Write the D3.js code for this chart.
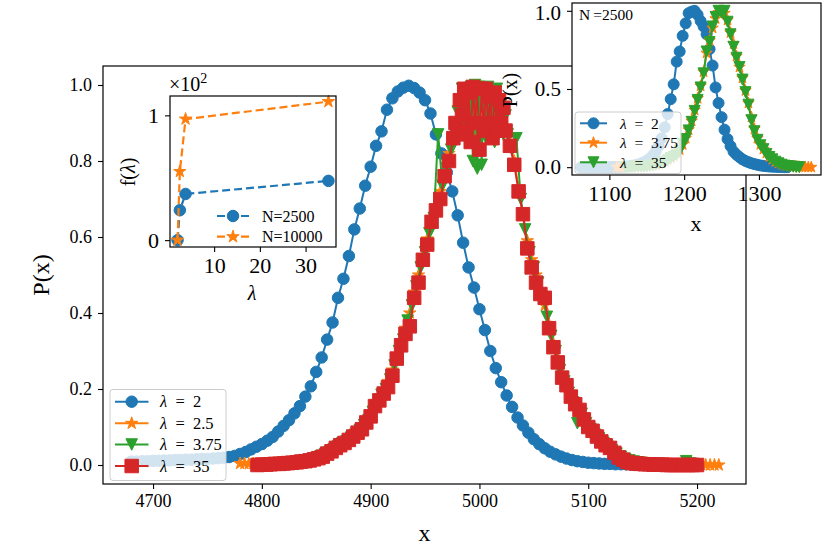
<!DOCTYPE html>
<html><head><meta charset="utf-8">
<script src="https://cdnjs.cloudflare.com/ajax/libs/d3/7.8.5/d3.min.js"></script>
<style>
html,body{margin:0;padding:0;background:#fff;}
svg{display:block;font-family:"Liberation Serif","DejaVu Serif",serif;}
</style></head>
<body><svg id="c" width="830" height="554"></svg>
<script>
// ---------------- DATA ----------------
// Main panel (N = 10000): [x, P(x)]
const mainLam2 = [[4680,.009],[4685,.009],[4690,.010],[4695,.010],[4700,.011],[4705,.011],[4710,.012],[4715,.012],[4720,.013],[4725,.013],[4730,.014],[4735,.014],[4740,.015],[4745,.016],[4750,.016],[4755,.017],[4760,.018],[4765,.019],[4770,.021],[4775,.024],[4780,.029],[4785,.034],[4790,.041],[4795,.048],[4800,.055],[4805,.064],[4810,.074],[4815,.088],[4820,.103],[4825,.118],[4830,.136],[4835,.155],[4840,.180],[4845,.207],[4850,.245],[4855,.283],[4860,.330],[4865,.375],[4870,.440],[4875,.490],[4880,.550],[4885,.620],[4890,.675],[4895,.735],[4900,.785],[4905,.840],[4910,.878],[4915,.935],[4920,.965],[4925,.983],[4930,.993],[4935,.998],[4940,.992],[4945,.980],[4950,.960],[4955,.925],[4960,.870],[4965,.820],[4970,.770],[4975,.720],[4980,.657],[4985,.585],[4990,.520],[4995,.467],[5000,.410],[5005,.355],[5010,.300],[5015,.255],[5020,.218],[5025,.183],[5030,.153],[5035,.125],[5040,.104],[5045,.085],[5050,.068],[5055,.055],[5060,.044],[5065,.035],[5070,.028],[5075,.022],[5080,.017],[5085,.013],[5090,.010],[5095,.008],[5100,.006],[5105,.005],[5110,.004],[5115,.003],[5120,.003],[5125,.002],[5130,.002],[5135,.002],[5140,.001],[5145,.001],[5150,.001],[5155,.001],[5160,.001],[5165,.001],[5170,0],[5175,0],[5180,0],[5185,0],[5190,0]];
const mainLam25 = [[4780,.004],[4784,.004],[4788,.003],[4792,.004],[4796,.003],[4800,.003],[4804,.004],[4808,.004],[4812,.005],[4816,.005],[4820,.006],[4824,.007],[4828,.008],[4832,.010],[4836,.011],[4840,.013],[4844,.015],[4848,.018],[4852,.021],[4856,.026],[4860,.031],[4864,.038],[4868,.046],[4872,.055],[4876,.062],[4880,.070],[4884,.080],[4888,.090],[4892,.100],[4896,.118],[4900,.135],[4904,.158],[4908,.180],[4912,.195],[4916,.220],[4920,.250],[4924,.290],[4928,.325],[4932,.360],[4936,.400],[4940,.455],[4944,.500],[4948,.550],[4952,.595],[4956,.640],[4960,.680],[4964,.720],[4968,.770],[4972,.820],[4976,.860],[4978,.900],[4980,.880],[4982,.950],[4984,.910],[4986,.985],[4988,.900],[4990,.990],[4992,.870],[4994,.995],[4996,.850],[4998,.990],[5000,.880],[5002,.995],[5004,.900],[5006,.990],[5008,.870],[5010,.985],[5012,.880],[5014,.970],[5016,.900],[5018,.960],[5020,.900],[5022,.930],[5024,.880],[5028,.850],[5032,.800],[5036,.730],[5040,.660],[5044,.590],[5048,.540],[5052,.500],[5056,.460],[5060,.420],[5064,.370],[5068,.320],[5072,.280],[5076,.240],[5080,.215],[5084,.185],[5088,.160],[5092,.140],[5096,.120],[5100,.105],[5104,.090],[5108,.076],[5112,.064],[5116,.053],[5120,.044],[5124,.034],[5128,.026],[5132,.019],[5136,.014],[5140,.010],[5144,.008],[5148,.006],[5152,.005],[5156,.004],[5160,.003],[5164,.003],[5168,.002],[5172,.002],[5176,.002],[5180,.001],[5184,.001],[5188,.001],[5192,.002],[5196,.001],[5200,.001],[5204,.001],[5208,0],[5212,0],[5216,0],[5220,0]];
const mainLam375 = [[4798,0],[4802,.001],[4806,.001],[4810,.002],[4814,.003],[4818,.004],[4822,.005],[4826,.006],[4830,.007],[4834,.009],[4838,.011],[4842,.013],[4846,.015],[4850,.019],[4854,.023],[4858,.028],[4862,.033],[4866,.041],[4870,.049],[4874,.057],[4878,.063],[4882,.072],[4886,.080],[4890,.092],[4894,.105],[4898,.118],[4902,.140],[4906,.152],[4910,.185],[4914,.200],[4918,.225],[4922,.262],[4926,.300],[4930,.330],[4934,.380],[4938,.420],[4942,.470],[4946,.520],[4950,.560],[4954,.610],[4958,.650],[4962,.870],[4966,.735],[4970,.780],[4974,.830],[4978,.870],[4980,.930],[4982,.880],[4984,.990],[4986,.900],[4988,.990],[4990,.850],[4992,.995],[4994,.800],[4996,1.0],[4998,.780],[5000,.995],[5002,.790],[5004,.990],[5006,.860],[5008,.995],[5010,.880],[5012,.980],[5014,.850],[5016,.990],[5018,.900],[5020,.950],[5022,.870],[5024,.920],[5026,.870],[5030,.830],[5034,.860],[5038,.700],[5042,.620],[5046,.560],[5050,.520],[5054,.480],[5058,.440],[5062,.390],[5066,.340],[5070,.300],[5074,.250],[5078,.220],[5082,.190],[5086,.165],[5090,.110],[5094,.135],[5098,.110],[5102,.095],[5106,.080],[5110,.070],[5114,.058],[5118,.048],[5122,.038],[5126,.030],[5130,.022],[5134,.016],[5138,.012],[5142,.009],[5146,.007],[5150,.005],[5154,.004],[5158,.003],[5162,.002],[5166,.002],[5170,.001],[5174,.001],[5178,.001],[5182,0],[5186,0],[5190,.010],[5194,.004],[5198,0]];
const mainLam35 = [[4796,0],[4800,.001],[4804,.001],[4808,.002],[4812,.003],[4816,.003],[4820,.004],[4824,.005],[4828,.006],[4832,.007],[4836,.009],[4840,.010],[4844,.012],[4848,.015],[4852,.018],[4856,.022],[4860,.030],[4864,.036],[4868,.045],[4872,.052],[4876,.058],[4880,.066],[4884,.075],[4888,.085],[4892,.094],[4896,.112],[4900,.128],[4904,.155],[4908,.170],[4912,.188],[4916,.205],[4920,.235],[4924,.280],[4928,.315],[4932,.345],[4936,.365],[4940,.440],[4944,.480],[4948,.540],[4952,.580],[4956,.640],[4960,.670],[4964,.700],[4968,.760],[4972,.800],[4976,.860],[4978,.900],[4980,.870],[4982,.960],[4984,.920],[4986,.990],[4988,.880],[4990,.980],[4992,.850],[4994,.995],[4996,.900],[4998,.990],[5000,.830],[5002,.990],[5004,.880],[5006,.990],[5008,.900],[5010,.970],[5012,.860],[5014,.980],[5016,.880],[5018,.960],[5020,.900],[5022,.940],[5024,.880],[5028,.840],[5032,.790],[5036,.720],[5040,.660],[5044,.570],[5048,.520],[5052,.480],[5056,.450],[5060,.440],[5064,.360],[5068,.310],[5072,.270],[5076,.230],[5080,.210],[5084,.180],[5088,.160],[5092,.145],[5096,.120],[5100,.100],[5104,.090],[5108,.075],[5112,.062],[5116,.052],[5120,.045],[5124,.032],[5128,.020],[5132,.014],[5136,.008],[5140,.005],[5144,.004],[5148,.003],[5152,.002],[5156,.002],[5160,.001],[5164,.001],[5168,.001],[5172,0],[5176,0],[5180,0],[5184,0],[5188,0],[5192,0],[5196,0],[5200,0]];
const mainLabels = ["2","2.5","3.75","35"];
const mainXTicks = [4700,4800,4900,5000,5100,5200];
const mainYTicks = [0,0.2,0.4,0.6,0.8,1.0];

// Inset 1: f(lambda) in units of 10^2
const insetLambda = [2,2.5,3.75,35];
const fN2500 = [0,0.24,0.37,0.475];
const fN10000 = [0,0.55,0.97,1.11];
const inset1XTicks = [10,20,30];
const inset1YTicks = [0,1];

// Inset 2 (N = 2500)
const smallLam2 = [[1062,0],[1066,0],[1070,0],[1074,0],[1078,0],[1082,0],[1086,0],[1090,0],[1094,0],[1098,.001],[1102,.001],[1106,.001],[1110,.002],[1114,.002],[1118,.003],[1122,.004],[1126,.006],[1130,.009],[1134,.012],[1138,.017],[1142,.023],[1146,.031],[1150,.042],[1154,.055],[1158,.075],[1162,.100],[1166,.135],[1170,.185],[1174,.255],[1178,.340],[1182,.435],[1186,.530],[1190,.675],[1194,.740],[1198,.840],[1202,.920],[1206,.985],[1210,.995],[1214,1.0],[1218,.975],[1222,.935],[1226,.900],[1230,.850],[1234,.755],[1238,.650],[1242,.510],[1246,.410],[1250,.320],[1254,.240],[1258,.180],[1262,.135],[1266,.100],[1270,.080],[1274,.064],[1278,.050],[1282,.040],[1286,.032],[1290,.025],[1294,.020],[1298,.015],[1302,.011],[1306,.008],[1310,.006],[1314,.004],[1318,.003],[1322,.002],[1326,.001],[1330,.001],[1334,0],[1338,0]];
const smallLam375 = [[1110,0],[1114,0],[1118,.001],[1122,.001],[1126,.001],[1130,.002],[1134,.002],[1138,.003],[1142,.004],[1146,.005],[1150,.007],[1154,.009],[1158,.012],[1162,.016],[1166,.021],[1170,.028],[1174,.036],[1178,.047],[1182,.060],[1186,.072],[1190,.088],[1194,.112],[1198,.145],[1202,.185],[1206,.240],[1210,.295],[1214,.365],[1218,.440],[1222,.520],[1226,.610],[1230,.730],[1234,.810],[1238,.890],[1242,.950],[1246,.990],[1250,1.0],[1254,.985],[1258,.940],[1262,.860],[1266,.790],[1270,.710],[1274,.640],[1278,.570],[1282,.490],[1286,.410],[1290,.320],[1294,.245],[1298,.185],[1302,.145],[1306,.115],[1310,.090],[1314,.068],[1318,.050],[1322,.036],[1326,.026],[1330,.018],[1334,.012],[1338,.008],[1342,.006],[1346,.004],[1350,.003],[1354,.002],[1358,.001],[1362,.001],[1366,0],[1370,0]];
const smallLam35 = [[1122,0],[1126,.001],[1130,.001],[1134,.002],[1138,.003],[1142,.004],[1146,.005],[1150,.006],[1154,.008],[1158,.011],[1162,.015],[1166,.020],[1170,.027],[1174,.035],[1178,.045],[1182,.058],[1186,.068],[1190,.080],[1194,.105],[1198,.150],[1202,.180],[1206,.235],[1210,.290],[1214,.360],[1218,.430],[1222,.510],[1226,.600],[1230,.740],[1234,.800],[1238,.900],[1242,.960],[1246,1.0],[1250,.990],[1254,1.0],[1258,.930],[1262,.850],[1266,.770],[1270,.700],[1274,.640],[1278,.560],[1282,.480],[1286,.400],[1290,.300],[1294,.230],[1298,.175],[1302,.140],[1306,.115],[1310,.085],[1314,.065],[1318,.050],[1322,.035],[1326,.025],[1330,.016],[1334,.010],[1338,.007],[1342,.005],[1346,.003],[1350,.001],[1354,0]];
const smallLabels = ["2","3.75","35"];
const inset2XTicks = [1100,1200,1300];
const inset2YTicks = [0,0.5,1.0];

// ---------------- DRAWING ----------------
const C = {blue:"#1f77b4", orange:"#ff7f0e", green:"#2ca02c", red:"#d62728"};
const svg = d3.select("#c");
const FONT = '"Liberation Serif","DejaVu Serif",serif';

function markerPath(type, s) {
  if (type === "circle") return d3.symbol(d3.symbolCircle, Math.PI * (s/2) * (s/2))();
  if (type === "square") return d3.symbol(d3.symbolSquare, s*s)();
  if (type === "star") return d3.symbol(d3.symbolStar, (s/2)*(s/2)/0.8908130915292852)();
  if (type === "tri") return `M0,${s/2}L${-s/2},${-s/2}L${s/2},${-s/2}Z`;
}
function drawSeries(g, xs, ys, data, color, type, size, lw, dash) {
  const line = d3.line().x(d => xs(d[0])).y(d => ys(d[1]));
  g.append("path").datum(data).attr("d", line).attr("fill", "none")
    .attr("stroke", color).attr("stroke-width", lw).attr("stroke-linejoin","round")
    .attr("stroke-dasharray", dash || null);
  g.append("g").selectAll("path").data(data).join("path")
    .attr("d", markerPath(type, size))
    .attr("transform", d => `translate(${xs(d[0])},${ys(d[1])})`)
    .attr("fill", color).attr("stroke", color).attr("stroke-width", 1);
}
function styleAxis(ax, fs) {
  ax.select(".domain").remove();
  ax.selectAll(".tick line").attr("stroke", "#000").attr("stroke-width", 1.1);
  ax.selectAll(".tick text").attr("font-family", FONT).attr("font-size", fs).attr("fill", "#000");
}
function frame(g, x0, y0, x1, y1) {
  g.append("rect").attr("x", x0).attr("y", y0).attr("width", x1-x0).attr("height", y1-y0)
    .attr("fill", "none").attr("stroke", "#000").attr("stroke-width", 1.2);
}
function lamLabel(t, val) {
  t.append("tspan").attr("font-style","italic").text("λ");
  t.append("tspan").text("\u2002=\u2002" + val);
}

// ---- Main panel ----
const mL=103, mR=746, mT=66, mB=484;
const mx = d3.scaleLinear().domain([4654, 5245]).range([mL, mR]);
const my = d3.scaleLinear().domain([-0.05, 1.05]).range([mB, mT]);
const gMain = svg.append("g");
gMain.append("rect").attr("x",mL).attr("y",mT).attr("width",mR-mL).attr("height",mB-mT).attr("fill","#fff");
const series = [
  {d: mainLam2, c: C.blue, t: "circle", s: 11.5},
  {d: mainLam25, c: C.orange, t: "star", s: 13},
  {d: mainLam375, c: C.green, t: "tri", s: 11.5},
  {d: mainLam35, c: C.red, t: "square", s: 13.5}
];
series.forEach(s => drawSeries(gMain, mx, my, s.d, s.c, s.t, s.s, 2));
frame(gMain, mL, mT, mR, mB);
const axMX = gMain.append("g").attr("transform", `translate(0,${mB})`)
  .call(d3.axisBottom(mx).tickValues(mainXTicks).tickFormat(d3.format("d")).tickSize(5).tickPadding(5));
styleAxis(axMX, 18);
const axMY = gMain.append("g").attr("transform", `translate(${mL},0)`)
  .call(d3.axisLeft(my).tickValues(mainYTicks).tickFormat(d3.format(".1f")).tickSize(5).tickPadding(6));
styleAxis(axMY, 18);
gMain.append("text").attr("x", (mL+mR)/2).attr("y", 541).attr("text-anchor","middle")
  .attr("font-size", 24).text("x");
gMain.append("text").attr("transform", `translate(49,${(mT+mB)/2}) rotate(-90)`).attr("text-anchor","middle")
  .attr("font-size", 24).text("P(x)");

// main legend
const lg = gMain.append("g");
lg.append("rect").attr("x",110).attr("y",389.5).attr("width",116).attr("height",91).attr("rx",3)
  .attr("fill","#fff").attr("fill-opacity",0.8).attr("stroke","#cccccc").attr("stroke-width",1);
const legRows = [401.7, 423.3, 444.5, 466];
series.forEach((s, i) => {
  const y = legRows[i];
  lg.append("line").attr("x1",115).attr("x2",148.5).attr("y1",y).attr("y2",y).attr("stroke",s.c).attr("stroke-width",2);
  lg.append("path").attr("d", markerPath(s.t, s.s)).attr("transform",`translate(131.7,${y})`)
    .attr("fill",s.c).attr("stroke",s.c).attr("stroke-width",1);
  const t = lg.append("text").attr("x",160).attr("y",y+5.5).attr("font-size",16.5);
  lamLabel(t, mainLabels[i]);
});

// ---- Inset 1 ----
const aL=170, aR=336, aT=96, aB=247;
const ax = d3.scaleLinear().domain([0.35, 36.65]).range([aL, aR]);
const ay = d3.scaleLinear().domain([-0.055, 1.155]).range([aB, aT]);
const g1 = svg.append("g");
g1.append("rect").attr("x",aL).attr("y",aT).attr("width",aR-aL).attr("height",aB-aT).attr("fill","#fff");
const d2500 = insetLambda.map((l,i)=>[l, fN2500[i]]);
const d10000 = insetLambda.map((l,i)=>[l, fN10000[i]]);
drawSeries(g1, ax, ay, d2500, C.blue, "circle", 11.5, 2.2, "8,4");
drawSeries(g1, ax, ay, d10000, C.orange, "star", 13, 2.2, "8,4");
frame(g1, aL, aT, aR, aB);
const ax1 = g1.append("g").attr("transform",`translate(0,${aB})`)
  .call(d3.axisBottom(ax).tickValues(inset1XTicks).tickFormat(d3.format("d")).tickSize(5).tickPadding(5));
styleAxis(ax1, 22);
const ay1 = g1.append("g").attr("transform",`translate(${aL},0)`)
  .call(d3.axisLeft(ay).tickValues(inset1YTicks).tickFormat(d3.format("d")).tickSize(5).tickPadding(6));
styleAxis(ay1, 22);
g1.append("text").attr("x",252).attr("y",300).attr("text-anchor","middle").attr("font-size",20)
  .attr("font-style","italic").text("λ");
const fl = g1.append("text").attr("transform","translate(135,172) rotate(-90)").attr("text-anchor","middle").attr("font-size",20);
fl.append("tspan").text("f(");
fl.append("tspan").attr("font-style","italic").text("λ");
fl.append("tspan").text(")");
const off = g1.append("text").attr("x",169).attr("y",91).attr("font-size",20);
off.append("tspan").text("×10");
off.append("tspan").attr("dy",-8).attr("font-size",14).text("2");
// inset1 legend
[[C.blue,"circle",11.5,"N=2500",216],[C.orange,"star",13,"N=10000",236.7]].forEach(r => {
  g1.append("line").attr("x1",217).attr("x2",249).attr("y1",r[4]).attr("y2",r[4]).attr("stroke",r[0])
    .attr("stroke-width",2.2).attr("stroke-dasharray","8,4");
  g1.append("path").attr("d",markerPath(r[1],r[2])).attr("transform",`translate(233,${r[4]})`)
    .attr("fill",r[0]).attr("stroke",r[0]).attr("stroke-width",1);
  g1.append("text").attr("x",262).attr("y",r[4]+5.5).attr("font-size",16).text(r[3]);
});

// ---- Inset 2 ----
const bL=572, bR=821, bT=3, bB=175;
const bx = d3.scaleLinear().domain([1050, 1383]).range([bL, bR]);
const by = d3.scaleLinear().domain([-0.05, 1.05]).range([bB, bT]);
const g2 = svg.append("g");
g2.append("rect").attr("x",bL).attr("y",bT).attr("width",bR-bL).attr("height",bB-bT).attr("fill","#fff");
const series2 = [
  {d: smallLam2, c: C.blue, t: "circle", s: 11},
  {d: smallLam375, c: C.orange, t: "star", s: 12},
  {d: smallLam35, c: C.green, t: "tri", s: 11}
];
series2.forEach(s => drawSeries(g2, bx, by, s.d, s.c, s.t, s.s, 2));
frame(g2, bL, bT, bR, bB);
const ax2 = g2.append("g").attr("transform",`translate(0,${bB})`)
  .call(d3.axisBottom(bx).tickValues(inset2XTicks).tickFormat(d3.format("d")).tickSize(5).tickPadding(5));
styleAxis(ax2, 22);
const ay2 = g2.append("g").attr("transform",`translate(${bL},0)`)
  .call(d3.axisLeft(by).tickValues(inset2YTicks).tickFormat(d3.format(".1f")).tickSize(5).tickPadding(6));
styleAxis(ay2, 21);
ay2.selectAll(".tick text").filter(d => d === 1).attr("dy", "0.42em");
g2.append("text").attr("x",696).attr("y",231).attr("text-anchor","middle").attr("font-size",22).text("x");
g2.append("text").attr("transform","translate(517,90) rotate(-90)").attr("text-anchor","middle").attr("font-size",20).text("P(x)");
g2.append("text").attr("x",579).attr("y",19.5).attr("font-size",15.5).text("N\u2009=2500");
const lg2 = g2.append("g");
lg2.append("rect").attr("x",575).attr("y",112).attr("width",106).attr("height",61.5).attr("rx",3)
  .attr("fill","#fff").attr("fill-opacity",0.8).attr("stroke","#cccccc").attr("stroke-width",1);
const leg2Rows = [123.3, 142.7, 162.3];
series2.forEach((s,i) => {
  const y = leg2Rows[i];
  lg2.append("line").attr("x1",580).attr("x2",607).attr("y1",y).attr("y2",y).attr("stroke",s.c).attr("stroke-width",2);
  lg2.append("path").attr("d",markerPath(s.t,s.s)).attr("transform",`translate(593.5,${y})`)
    .attr("fill",s.c).attr("stroke",s.c).attr("stroke-width",1);
  const t = lg2.append("text").attr("x",620).attr("y",y+5.5).attr("font-size",15.5);
  lamLabel(t, smallLabels[i]);
});
svg.selectAll("text").attr("font-family", FONT).attr("fill","#000");
</script></body></html>
